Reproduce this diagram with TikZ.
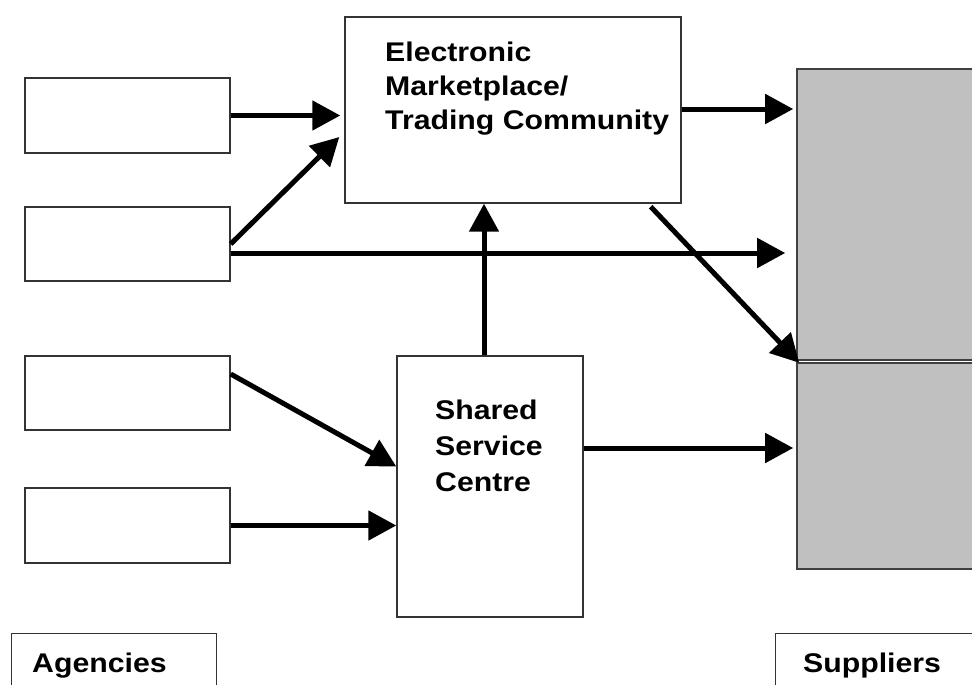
\documentclass[tikz,border=0pt]{standalone}
\usepackage{fontspec}
\newfontfamily\lblfont[FakeStretch=1.12]{Liberation Sans}
\usetikzlibrary{arrows.meta,calc}
\definecolor{boxline}{HTML}{333333}
\definecolor{supfill}{HTML}{C0C0C0}
\definecolor{supline}{HTML}{404040}
\tikzset{
  whitebox/.style={draw=boxline,line width=1.4pt,fill=white,rectangle,inner sep=0pt},
  graybox/.style={draw=supline,line width=1.6pt,fill=supfill,rectangle,inner sep=0pt},
  lbl/.style={inner sep=0pt,align=left,font=\lblfont\bfseries\fontsize{27}{34}\selectfont},
  lblwide/.style={inner sep=0pt,align=left,font=\lblfont\bfseries\fontsize{27}{36}\selectfont},
  arr/.style={line width=5pt,-{Triangle[length=28pt,width=29pt]}}
}
\begin{document}
\begin{tikzpicture}[x=1pt,y=-1pt]
\useasboundingbox (0,0) rectangle (972,685);
\clip (0,0) rectangle (972,685);
% agency boxes
\node[whitebox,minimum width=205pt,minimum height=75pt] (a1) at (127.5,115.5) {};
\node[whitebox,minimum width=205pt,minimum height=74pt] (a2) at (127.5,244) {};
\node[whitebox,minimum width=205pt,minimum height=74pt] (a3) at (127.5,393) {};
\node[whitebox,minimum width=205pt,minimum height=75pt] (a4) at (127.5,525.5) {};
% central boxes
\node[whitebox,minimum width=336pt,minimum height=186pt] (em) at (513,110) {};
\node[whitebox,minimum width=186pt,minimum height=261pt] (ssc) at (490,486.5) {};
% supplier boxes
\node[graybox,minimum width=193pt,minimum height=291pt] (s1) at (893.5,214.5) {};
\node[graybox,minimum width=193pt,minimum height=206pt] (s2) at (893.5,466) {};
% legend boxes
\node[whitebox,minimum width=205pt,minimum height=80pt,anchor=north west] (lagbox) at (11,633) {};
\node[whitebox,minimum width=215pt,minimum height=80pt,anchor=north west] (lsupbox) at (775,633) {};
% texts
\node[lbl,anchor=north west] (emt) at (385,42) {Electronic\\Marketplace/\\Trading Community};
\node[lblwide,anchor=north west] (ssct) at (435,400) {Shared\\Service\\Centre};
\node[lbl,anchor=base west] (lag) at (32,672) {Agencies};
\node[lbl,anchor=base west] (lsup) at (803,672) {Suppliers};
% connectors
\draw[arr,shorten >=4pt] (a1.east) -- (a1.east -| em.west);
\draw[arr] (a2.east) -- ([xshift=-5pt,yshift=-27pt]em.west);
\draw[arr,shorten >=11pt] ([yshift=-9pt]a2.east) -- ([yshift=-9pt]a2.east -| s1.west);
\draw[arr] ([yshift=19pt]a3.east) -- ([yshift=20pt]ssc.west);
\draw[arr] (a4.east) -- (a4.east -| ssc.west);
\draw[arr] ([xshift=-6pt]ssc.north) -- ([xshift=-6pt]ssc.north |- em.south);
\draw[arr,shorten >=3pt] ([yshift=1pt]em.east) -- ([yshift=1pt]em.east -| s1.west);
\draw[arr] ([xshift=-31pt,yshift=-3pt]em.south east) -- ([xshift=3pt,yshift=-2pt]s1.south west);
\draw[arr,shorten >=3pt] ([yshift=38.5pt]ssc.east) -- ([yshift=38.5pt]ssc.east -| s2.west);
\end{tikzpicture}
\end{document}
